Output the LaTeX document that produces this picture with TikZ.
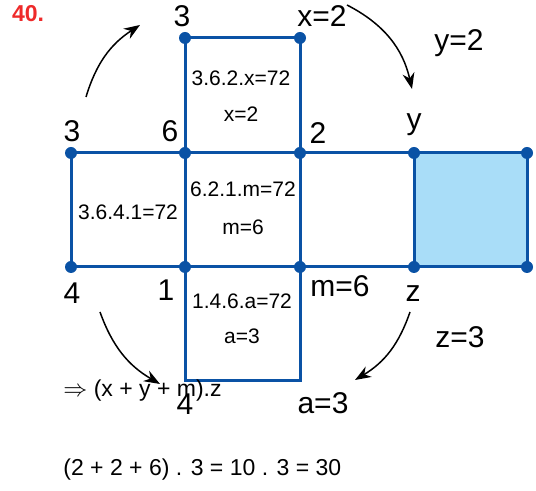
\documentclass[tikz,border=0pt]{standalone}
\usepackage{fontspec}
\setmainfont{Liberation Sans}
\usepackage{xcolor}
\definecolor{netblue}{HTML}{0A52A5}
\definecolor{faceblue}{HTML}{A9DDF8}
\definecolor{numred}{HTML}{EE2A2A}
\usepackage{tikz}
\usetikzlibrary{arrows.meta}

\begin{document}
\begin{tikzpicture}[x=0.5pt, y=-0.5pt,
	edge/.style={netblue, line width=1.5pt},
	vtx/.style={circle, fill=netblue, inner sep=0pt, minimum size=6pt},
	big/.style={font=\fontsize{15}{15}\selectfont, inner sep=0pt},
	face/.style={font=\fontsize{10.5}{10.5}\selectfont, inner sep=0pt},
	eq/.style={font=\fontsize{11.5}{11.5}\selectfont, inner sep=0pt, anchor=west},
	turn/.style={-{Stealth[length=8pt, width=6pt]}, line width=0.75pt}]
	\useasboundingbox (0, 0) rectangle (536, 491);
	
	% net of the box
	\fill[faceblue] (414, 153) rectangle (527, 267);
	\draw[edge] (185, 38) rectangle (300, 153);
	\draw[edge] (71, 153) rectangle (527, 267);
	\draw[edge] (185, 153) -- (185, 267) (300, 153) -- (300, 267) (414, 153) -- (414, 267);
	\draw[edge] (185, 267) rectangle (300, 381);
	
	\foreach \x/\n in {185/ta, 300/tb} {\node[vtx] (\n) at (\x, 38) {};}
	\foreach \x/\n in {71/ua, 185/ub, 300/uc, 414/ud, 527/ue} {
		\node[vtx] (\n) at (\x, 153) {};
		\node[vtx] (\n d) at (\x, 267) {};
	}
	
	\node[font=\fontsize{11.5}{11.5}\selectfont\bfseries, text=numred] (num) at (28, 14) {40.};
	
	\node[big] (l3a) at (182, 16) {3};
	\node[big] (lx) at (322, 16) {x=2};
	\node[big] (ly2) at (459, 43) {y=2};
	\node[big] (l3b) at (72, 131) {3};
	\node[big] (l6) at (170, 131) {6};
	\node[big] (l2) at (318, 133) {2};
	\node[big] (ly) at (414, 125) {y};
	\node[big] (l4a) at (72, 293) {4};
	\node[big] (l1) at (166, 290) {1};
	\node[big] (lm) at (340, 286) {m=6};
	\node[big] (lz) at (413, 294) {z};
	\node[big] (lz3) at (460, 337) {z=3};
	\node[big] (la) at (323, 403) {a=3};
	\node[big] (l4b) at (185, 404) {4};
	
	\node[face] (f1) at (241, 78) {3.6.2.x=72};
	\node[face] (f1b) at (241, 114) {x=2};
	\node[face] (f2) at (128, 212) {3.6.4.1=72};
	\node[face] (f3) at (243, 189) {6.2.1.m=72};
	\node[face] (f3b) at (243, 227) {m=6};
	\node[face] (f4) at (242, 301) {1.4.6.a=72};
	\node[face] (f4b) at (242, 336) {a=3};
	
	\node[eq] (sum) at (63, 391) {$\Rightarrow$ (x + y + m).z};
	\node[eq] (res) at (63, 470) {(2 + 2 + 6) . 3 = 10 . 3 = 30};
	
	\coordinate (p1) at (86, 97);  \coordinate (q1) at (140, 25);
	\coordinate (p2) at (347, 5);  \coordinate (q2) at (412, 89);
	\coordinate (p3) at (100, 312); \coordinate (q3) at (160, 384);
	\coordinate (p4) at (410, 312); \coordinate (q4) at (355, 380);
	\draw[turn] (p1) to[bend left=20] (q1);
	\draw[turn] (p2) to[bend left=25] (q2);
	\draw[turn] (p3) to[bend right=20] (q3);
	\draw[turn] (p4) to[bend left=20] (q4);
\end{tikzpicture}
\end{document}
